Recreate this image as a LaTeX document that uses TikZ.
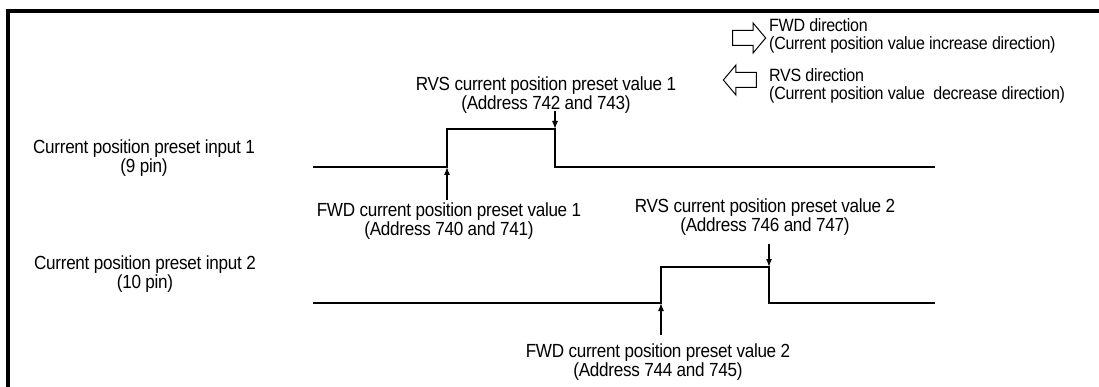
\documentclass[tikz,border=0pt]{standalone}
\usepackage{fontspec}
\setmainfont{Liberation Sans}[LetterSpace=-1.5,FakeStretch=0.9]
\usepackage{tikz}
\usetikzlibrary{arrows.meta,shapes.arrows}

\begin{document}
\begin{tikzpicture}[x=1pt,y=-1pt,
  label/.style={align=center,inner sep=1pt,font=\fontsize{19}{18.5}\selectfont},
  legend/.style={align=left,anchor=west,inner sep=1pt,font=\fontsize{17.8}{17.5}\selectfont},
  signal/.style={line width=2.2pt,line join=miter},
  pointer/.style={-{Latex[length=8pt,width=6pt]},line width=1.3pt},
  blockarrow/.style={draw,line width=1pt,single arrow,minimum height=33pt,
    minimum width=29pt,inner sep=7pt,single arrow head extend=7.5pt,
    single arrow tip angle=100},
  frame/.style={line width=4pt}]
\useasboundingbox (0,0) rectangle (1099,387);
% frame, top and left only
\draw[frame] (1099,11) -- (8,11) -- (8,387);
% direction legend
\node[blockarrow] (fwdarrow) at (746,38) {};
\node[blockarrow,shape border rotate=180] (rvsarrow) at (743,80) {};
\node[legend] (fwdtext) at (768,36) {FWD direction\\(Current position value increase direction)};
\node[legend] (rvstext) at (768,86) {RVS direction\\(Current position value \ decrease direction)};
% input names
\node[label] (in1) at (144,158) {Current position preset input 1\\(9 pin)};
\node[label] (in2) at (145,274) {Current position preset input 2\\(10 pin)};
% signal 1
\coordinate (start1) at (313,167);
\coordinate (rise1) at (447,167);
\coordinate (high1) at (447,129);
\coordinate (fall1) at (555,129);
\coordinate (low1) at (555,167);
\coordinate (end1) at (935,167);
\draw[signal] (start1) -- (rise1) -- (high1) -- (fall1) -- (low1) -- (end1);
% signal 2
\coordinate (start2) at (313,303);
\coordinate (rise2) at (661,303);
\coordinate (high2) at (661,267);
\coordinate (fall2) at (769,267);
\coordinate (low2) at (769,303);
\coordinate (end2) at (935,303);
\draw[signal] (start2) -- (rise2) -- (high2) -- (fall2) -- (low2) -- (end2);
% preset values
\node[label] (rvs1) at (546,95) {RVS current position preset value 1\\(Address 742 and 743)};
\node[label] (fwd1) at (449,221) {FWD current position preset value 1\\(Address 740 and 741)};
\node[label] (rvs2) at (765,217) {RVS current position preset value 2\\(Address 746 and 747)};
\node[label] (fwd2) at (658,362) {FWD current position preset value 2\\(Address 744 and 745)};
\coordinate (tail1) at (555,111);
\coordinate (tail2) at (447,200);
\coordinate (tail3) at (769,244);
\coordinate (tail4) at (661,335);
\draw[pointer] (tail1) -- (fall1);
\draw[pointer] (tail2) -- (rise1);
\draw[pointer] (tail3) -- (fall2);
\draw[pointer] (tail4) -- (rise2);
\end{tikzpicture}
\end{document}
